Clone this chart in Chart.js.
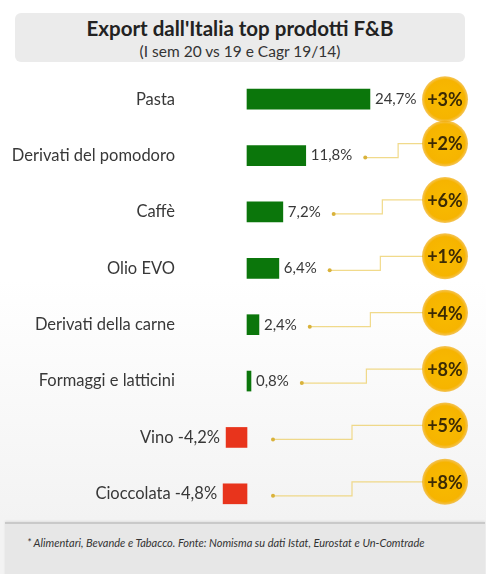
<!DOCTYPE html>
<html lang="it">
<head>
<meta charset="utf-8">
<title>Export dall'Italia top prodotti F&amp;B</title>
<script src="https://cdn.jsdelivr.net/npm/chart.js@4/dist/chart.umd.min.js"></script>
<style>
  html, body { margin: 0; padding: 0; }
  body { width: 486px; height: 574px; overflow: hidden; font-family: Lato, "Open Sans", sans-serif; }
  #card {
    position: relative; width: 486px; height: 574px;
    background: linear-gradient(to bottom, #ffffff 0px, #ffffff 280px, #f3f3f3 520px);
  }
  #head {
    position: absolute; left: 15px; top: 13px; width: 450px; height: 49px;
    background: #ebebeb; border-radius: 6px; text-align: center; color: #222;
  }
  #head .t { font-weight: 700; font-size: 20.5px; line-height: 22px; margin-top: 4px; }
  #head .s { font-size: 15.5px; line-height: 20px; color: #333; margin-top: 2px; }
  #foot {
    position: absolute; left: 5px; top: 522px; width: 480px; height: 52px;
    background: #e7e7e7; border-top: 2px solid #c9c9c9;
    box-shadow: 0 -1px 2px rgba(0,0,0,0.08);
  }
  #foot .n { font-style: italic; font-size: 11px; color: #333; margin: 12px 0 0 22px; white-space: nowrap; }
  canvas { position: absolute; left: 0; top: 0; }
</style>
</head>
<body>
<div id="card">
  <div id="head">
    <div class="t">Export dall'Italia top prodotti F&amp;B</div>
    <div class="s">(I sem 20 vs 19 e Cagr 19/14)</div>
  </div>
  <div id="foot"><div class="n">* Alimentari, Bevande e Tabacco. Fonte: Nomisma su dati Istat, Eurostat e Un-Comtrade</div></div>
  <canvas id="c" width="486" height="574"></canvas>
</div>
<script>
// Prodotti
const categories = [
  'Pasta', 'Derivati del pomodoro', 'Caffè', 'Olio EVO',
  'Derivati della carne', 'Formaggi e latticini', 'Vino', 'Cioccolata'
];
// Variazione export I sem 2020 vs I sem 2019 (%)
const change2019 = [24.7, 11.8, 7.2, 6.4, 2.4, 0.8, -4.2, -4.8];
// CAGR 2014-2019 (%)
const cagr1914 = [3, 2, 6, 1, 4, 8, 5, 8];

const GREEN = '#0b760b';
const RED = '#e8341c';
const fmt = v => v.toFixed(1).replace('.', ',') + '%';

const overlay = {
  id: 'overlay',
  afterDatasetsDraw(chart) {
    const ctx = chart.ctx;
    const meta = chart.getDatasetMeta(0);
    const xs = chart.scales.x;
    const zeroX = xs.getPixelForValue(0);
    const circleX = chart.chartArea.right - 26;
    const R = 22;
    ctx.save();
    meta.data.forEach((bar, i) => {
      const v = change2019[i];
      const y = bar.y;
      const left = Math.min(bar.x, bar.base);
      ctx.textBaseline = 'middle';
      let dotX;
      if (v >= 0) {
        // category name at a fixed column left of the bars
        ctx.font = '16.5px Lato';
        ctx.fillStyle = '#383838';
        ctx.textAlign = 'right';
        ctx.fillText(categories[i], zeroX - 72, y);
        // value right of the bar
        ctx.font = '15px Lato';
        ctx.textAlign = 'left';
        const tx = bar.x + 5;
        ctx.fillText(fmt(v), tx, y);
        dotX = tx + ctx.measureText(fmt(v)).width + 13;
      } else {
        ctx.font = '16.5px Lato';
        ctx.fillStyle = '#383838';
        ctx.textAlign = 'right';
        ctx.fillText(categories[i] + ' ' + fmt(v), left - 6, y);
        dotX = zeroX + 26;
      }
      // connector towards the CAGR badge
      let cy = y;
      if (dotX < circleX - R - 10) {
        cy = y - 12;
        const dy = y + 2;
        const elbow = (dotX + circleX - R) / 2 + 4;
        ctx.strokeStyle = 'rgba(236, 205, 100, 0.75)';
        ctx.lineWidth = 1.2;
        ctx.beginPath();
        ctx.moveTo(dotX, dy);
        ctx.lineTo(elbow, dy);
        ctx.lineTo(elbow, cy);
        ctx.lineTo(circleX - R, cy);
        ctx.stroke();
        ctx.fillStyle = '#d9b23a';
        ctx.beginPath();
        ctx.arc(dotX, dy, 2, 0, Math.PI * 2);
        ctx.fill();
      }
      // badge
      const g = ctx.createRadialGradient(circleX, cy, 2, circleX, cy, R + 2);
      g.addColorStop(0, '#f8ba00');
      g.addColorStop(0.8, '#f6b400');
      g.addColorStop(1, 'rgba(240,170,20,0.6)');
      ctx.fillStyle = g;
      ctx.beginPath();
      ctx.arc(circleX, cy, R + 1, 0, Math.PI * 2);
      ctx.fill();
      ctx.fillStyle = '#3b2a05';
      ctx.font = 'bold 18px Lato';
      ctx.textAlign = 'center';
      ctx.fillText('+' + cagr1914[i] + '%', circleX, cy + 1);
    });
    ctx.restore();
  }
};

new Chart(document.getElementById('c'), {
  type: 'bar',
  data: {
    labels: categories,
    datasets: [{
      data: change2019,
      backgroundColor: change2019.map(v => v >= 0 ? GREEN : RED),
      borderWidth: 0,
      barThickness: 20
    }]
  },
  options: {
    indexAxis: 'y',
    responsive: false,
    animation: false,
    devicePixelRatio: 1,
    layout: { padding: { left: 23, right: 15, top: 71, bottom: 52 } },
    scales: {
      x: { min: -45, max: 45, display: false },
      y: { display: false }
    },
    plugins: { legend: { display: false }, tooltip: { enabled: false } }
  },
  plugins: [overlay]
});
</script>
</body>
</html>
